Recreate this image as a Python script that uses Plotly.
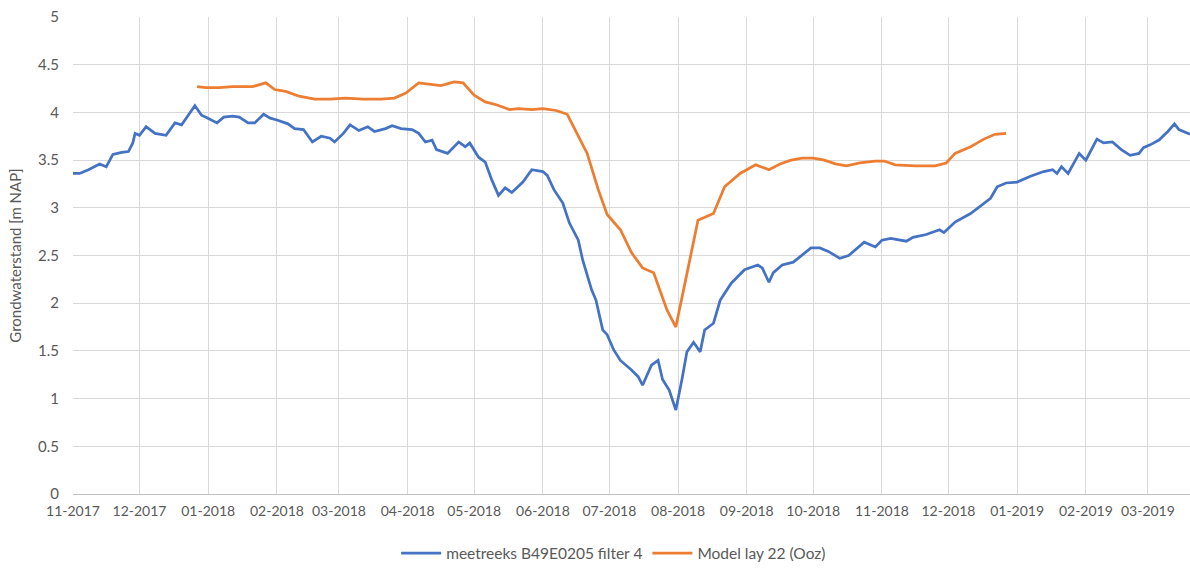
import plotly.graph_objects as go

# Measured groundwater level, piezometer B49E0205 filter 4 (m NAP)
meet_dates = [
    "2017-11-01", "2017-11-04", "2017-11-08", "2017-11-13", "2017-11-16", "2017-11-19",
    "2017-11-23", "2017-11-26", "2017-11-28", "2017-11-29", "2017-12-01", "2017-12-04",
    "2017-12-08", "2017-12-13", "2017-12-17", "2017-12-20", "2017-12-23", "2017-12-26",
    "2017-12-29", "2017-12-31", "2018-01-05", "2018-01-08", "2018-01-12", "2018-01-15",
    "2018-01-19", "2018-01-22", "2018-01-26", "2018-01-29", "2018-02-01", "2018-02-06",
    "2018-02-09", "2018-02-13", "2018-02-17", "2018-02-21", "2018-02-25", "2018-02-27",
    "2018-03-03", "2018-03-06", "2018-03-10", "2018-03-14", "2018-03-17", "2018-03-22",
    "2018-03-25", "2018-03-29", "2018-04-03", "2018-04-06", "2018-04-09", "2018-04-12",
    "2018-04-14", "2018-04-19", "2018-04-24", "2018-04-27", "2018-04-29", "2018-05-03",
    "2018-05-06", "2018-05-09", "2018-05-12", "2018-05-15", "2018-05-18", "2018-05-23",
    "2018-05-27", "2018-06-01", "2018-06-03", "2018-06-06", "2018-06-10", "2018-06-13",
    "2018-06-17", "2018-06-19", "2018-06-23", "2018-06-25", "2018-06-28", "2018-06-30",
    "2018-07-03", "2018-07-06", "2018-07-11", "2018-07-14", "2018-07-16", "2018-07-20",
    "2018-07-23", "2018-07-25", "2018-07-28", "2018-07-31", "2018-08-03", "2018-08-05",
    "2018-08-08", "2018-08-11", "2018-08-13", "2018-08-17", "2018-08-20", "2018-08-25",
    "2018-08-31", "2018-09-06", "2018-09-08", "2018-09-11", "2018-09-13", "2018-09-17",
    "2018-09-22", "2018-09-30", "2018-10-04", "2018-10-08", "2018-10-13", "2018-10-17",
    "2018-10-24", "2018-10-29", "2018-11-01", "2018-11-05", "2018-11-12", "2018-11-15",
    "2018-11-21", "2018-11-27", "2018-11-29", "2018-12-04", "2018-12-11", "2018-12-15",
    "2018-12-20", "2018-12-23", "2018-12-27", "2019-01-01", "2019-01-07", "2019-01-13",
    "2019-01-17", "2019-01-19", "2019-01-21", "2019-01-24", "2019-01-29", "2019-02-01",
    "2019-02-04", "2019-02-06", "2019-02-09", "2019-02-13", "2019-02-17", "2019-02-21",
    "2019-02-25", "2019-02-27", "2019-03-02", "2019-03-06", "2019-03-10", "2019-03-13",
    "2019-03-15", "2019-03-20",
]
meet_values = [
    3.36, 3.36, 3.40, 3.46, 3.43, 3.56,
    3.58, 3.59, 3.68, 3.78, 3.76, 3.85,
    3.78, 3.76, 3.89, 3.87, 3.97, 4.07,
    3.97, 3.95, 3.89, 3.95, 3.96, 3.95,
    3.89, 3.89, 3.98, 3.94, 3.92, 3.88,
    3.83, 3.82, 3.69, 3.75, 3.73, 3.69,
    3.78, 3.87, 3.81, 3.85, 3.80, 3.83,
    3.86, 3.83, 3.82, 3.78, 3.69, 3.71,
    3.61, 3.57, 3.69, 3.64, 3.68, 3.53,
    3.48, 3.29, 3.13, 3.21, 3.16, 3.27,
    3.40, 3.38, 3.34, 3.19, 3.05, 2.84,
    2.66, 2.45, 2.14, 2.03, 1.72, 1.67,
    1.51, 1.40, 1.30, 1.23, 1.14, 1.35,
    1.40, 1.20, 1.09, 0.88, 1.23, 1.49,
    1.59, 1.49, 1.72, 1.79, 2.03, 2.21,
    2.35, 2.40, 2.37, 2.22, 2.32, 2.40,
    2.43, 2.58, 2.58, 2.54, 2.47, 2.50,
    2.64, 2.59, 2.66, 2.68, 2.65, 2.69,
    2.72, 2.77, 2.74, 2.85, 2.94, 3.01,
    3.10, 3.22, 3.26, 3.27, 3.33, 3.38,
    3.40, 3.36, 3.43, 3.36, 3.57, 3.50,
    3.64, 3.72, 3.68, 3.69, 3.61, 3.55,
    3.57, 3.63, 3.66, 3.71, 3.80, 3.88,
    3.82, 3.77,
]

# Modelled head, layer 22 (Ooz)
model_dates = [
    "2017-12-27", "2017-12-31", "2018-01-06", "2018-01-12", "2018-01-21", "2018-01-27",
    "2018-01-31", "2018-02-05", "2018-02-11", "2018-02-18", "2018-02-25", "2018-03-04",
    "2018-03-12", "2018-03-20", "2018-03-26", "2018-03-31", "2018-04-06", "2018-04-16",
    "2018-04-22", "2018-04-26", "2018-05-01", "2018-05-06", "2018-05-11", "2018-05-17",
    "2018-05-21", "2018-05-27", "2018-06-01", "2018-06-07", "2018-06-12", "2018-06-16",
    "2018-06-21", "2018-06-26", "2018-06-30", "2018-07-06", "2018-07-11", "2018-07-16",
    "2018-07-21", "2018-07-27", "2018-07-31", "2018-08-06", "2018-08-10", "2018-08-17",
    "2018-08-22", "2018-08-29", "2018-09-05", "2018-09-11", "2018-09-16", "2018-09-21",
    "2018-09-26", "2018-10-01", "2018-10-06", "2018-10-11", "2018-10-16", "2018-10-22",
    "2018-10-29", "2018-11-02", "2018-11-07", "2018-11-16", "2018-11-25", "2018-11-30",
    "2018-12-04", "2018-12-11", "2018-12-17", "2018-12-22", "2018-12-27",
]
model_values = [
    4.27, 4.26, 4.26, 4.27, 4.27, 4.31,
    4.24, 4.22, 4.17, 4.14, 4.14, 4.15,
    4.14, 4.14, 4.15, 4.20, 4.31, 4.28,
    4.32, 4.31, 4.18, 4.11, 4.08, 4.03,
    4.04, 4.03, 4.04, 4.02, 3.98, 3.79,
    3.57, 3.19, 2.93, 2.77, 2.53, 2.37,
    2.32, 1.93, 1.75, 2.42, 2.87, 2.94,
    3.22, 3.36, 3.45, 3.40, 3.46, 3.50,
    3.52, 3.52, 3.50, 3.46, 3.44, 3.47,
    3.49, 3.49, 3.45, 3.44, 3.44, 3.47,
    3.57, 3.64, 3.72, 3.77, 3.78,
]

series_names = ["meetreeks B49E0205 filter 4", "Model lay 22 (Ooz)"]
series_colors = ["#4472C4", "#ED7D31"]

y_title = "Grondwaterstand [m NAP]"
x_start, x_end = "2017-11-01", "2019-03-20"

font_family = "Lato, 'Open Sans', sans-serif"
text_color = "#595959"
grid_color = "#D9D9D9"

fig = go.Figure()
for name, color, xs, ys in [
    (series_names[0], series_colors[0], meet_dates, meet_values),
    (series_names[1], series_colors[1], model_dates, model_values),
]:
    fig.add_trace(go.Scatter(
        x=xs, y=ys, name=name, mode="lines",
        line=dict(color=color, width=2.75),
    ))

fig.update_layout(
    width=1190, height=572,
    margin=dict(l=73, r=0, t=17, b=78),
    paper_bgcolor="white", plot_bgcolor="white",
    font=dict(family=font_family, size=14, color=text_color),
    showlegend=True,
    legend=dict(
        orientation="h", x=0.484, xanchor="center", y=-0.125, yanchor="middle",
        font=dict(size=15.5, color=text_color), itemwidth=40,
        tracegroupgap=0,
    ),
)
fig.update_xaxes(
    type="date", range=[x_start, x_end],
    tick0=x_start, dtick="M1", tickformat="%m-%Y",
    showgrid=True, gridcolor=grid_color, gridwidth=1,
    showline=True, linecolor="#BFBFBF", linewidth=1,
    zeroline=False, ticks="", ticklabelstandoff=4,
    tickfont=dict(size=14, color=text_color),
)
fig.update_yaxes(
    range=[0, 5], tick0=0, dtick=0.5,
    showgrid=True, gridcolor=grid_color, gridwidth=1,
    showline=False, zeroline=False, ticks="",
    ticklabelstandoff=13,
    tickfont=dict(size=15, color=text_color),
    title=dict(text=y_title, font=dict(size=15, color=text_color), standoff=12),
)

fig.write_html("out.html")
